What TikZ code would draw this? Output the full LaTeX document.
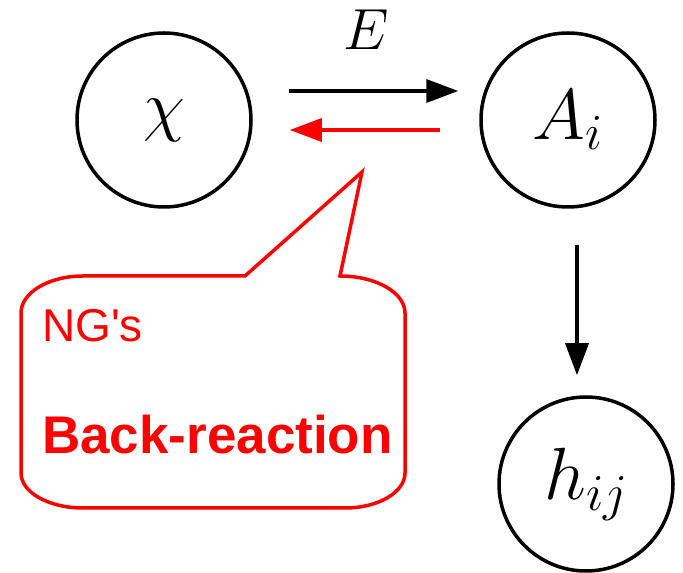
\RequirePackage{fix-cm}
\documentclass[tikz,border=0pt]{standalone}
\usepackage{fontspec}
\setsansfont{Liberation Sans}
\usepackage{tikz}
\usetikzlibrary{arrows.meta,positioning,calc}

\begin{document}
\begin{tikzpicture}[
    x=1pt, y=1pt,
    field/.style={draw, circle, line width=3.5pt, minimum size=174pt, inner sep=0pt},
    flow/.style={line width=3.5pt, -{Triangle[length=32pt,width=23pt]}},
    back/.style={flow, red},
    bubble/.style={draw=red, line width=3.5pt},
    note/.style={red, anchor=base west, inner sep=0pt, font=\sffamily}
]
    \useasboundingbox (0,0) rectangle (683,573);

    \node[field] (chi) at (164,453) {\fontsize{68}{72}\selectfont$\chi$};
    \node[field] (A) at (568,453) {\fontsize{72}{76}\selectfont$A_i$};
    \node[field] (h) at (586,89) {\fontsize{74}{78}\selectfont$h_{ij}$};

    \draw[flow, shorten <=36pt, shorten >=21pt] ([yshift=29pt]chi.east) -- node[above=40pt, inner sep=0pt] (E) {\fontsize{58}{62}\selectfont$E$} ([yshift=29pt]A.west);
    \draw[back, shorten <=39pt, shorten >=37pt] ([yshift=-10pt]A.west) -- ([yshift=-10pt]chi.east);
    \draw[flow, shorten <=36pt, shorten >=20pt] ([xshift=9pt]A.south) -- ([xshift=-9pt]h.north);

    % speech bubble
    \coordinate (tip) at (362,401);
    \draw[bubble] (245,297) -- (tip) -- (340,297)
        arc[start angle=90, end angle=0, x radius=65, y radius=37] -- (405,100)
        arc[start angle=0, end angle=-90, x radius=60, y radius=35] -- (83,65)
        arc[start angle=270, end angle=180, x radius=62, y radius=35] -- (21,260)
        arc[start angle=180, end angle=90, x radius=62, y radius=37] -- cycle;
    \node[note, font=\sffamily\fontsize{46}{50}\selectfont] (ng) at (42,231) {NG\textquotesingle s};
    \node[note, font=\sffamily\bfseries\fontsize{53}{57}\selectfont] (br) at (42,119) {Back-reaction};
\end{tikzpicture}
\end{document}
